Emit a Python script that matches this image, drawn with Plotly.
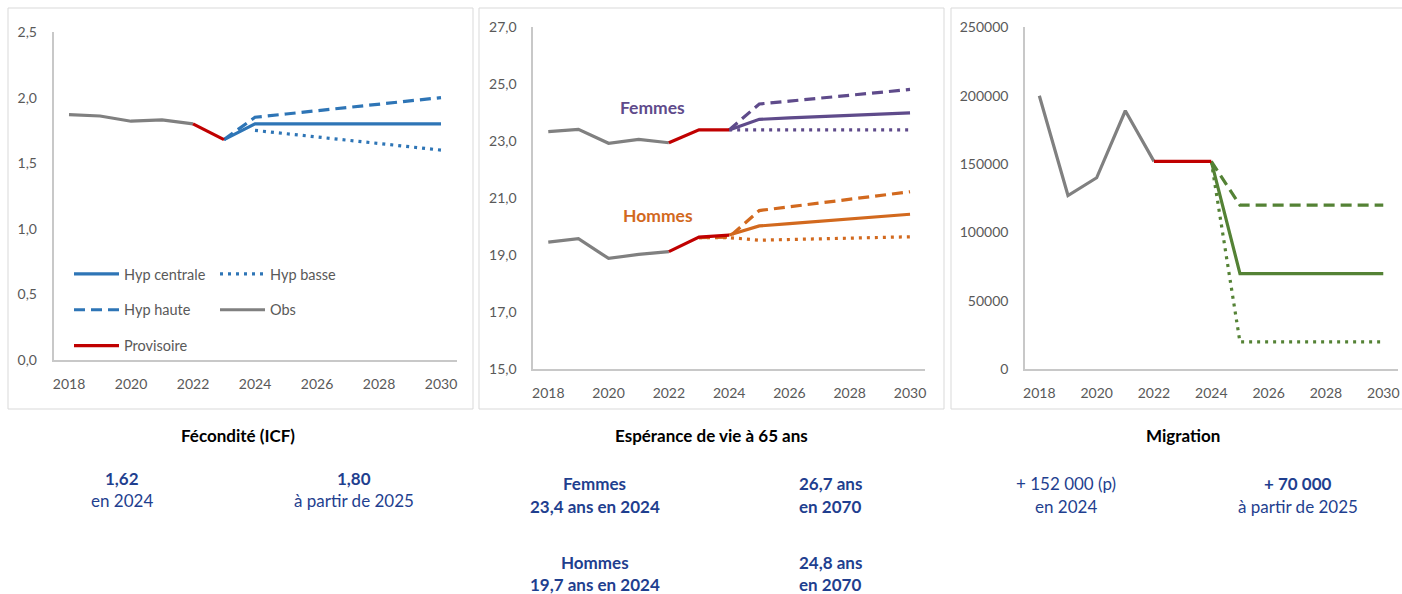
import plotly.graph_objects as go

W, H = 1402, 594
FONT = "Lato"

# ---------------- Data ----------------
years = [2018, 2019, 2020, 2021, 2022, 2023, 2024, 2025, 2026, 2027, 2028, 2029, 2030]

# Fécondité (ICF)
fec_obs_x = [2018, 2019, 2020, 2021, 2022]
fec_obs = [1.87, 1.86, 1.82, 1.83, 1.80]
fec_prov_x = [2022, 2023]
fec_prov = [1.80, 1.68]
fec_cent_x = [2023, 2024, 2025, 2026, 2027, 2028, 2029, 2030]
fec_cent = [1.68, 1.80, 1.80, 1.80, 1.80, 1.80, 1.80, 1.80]
fec_haute_x = [2023, 2024, 2025, 2026, 2027, 2028, 2029, 2030]
fec_haute = [1.68, 1.85, 1.875, 1.90, 1.925, 1.95, 1.975, 2.00]
fec_basse_x = [2024, 2025, 2026, 2027, 2028, 2029, 2030]
fec_basse = [1.75, 1.725, 1.70, 1.675, 1.65, 1.625, 1.60]

# Espérance de vie à 65 ans
ev_obs_x = [2018, 2019, 2020, 2021, 2022]
ev_f_obs = [23.34, 23.42, 22.93, 23.07, 22.95]
ev_h_obs = [19.46, 19.58, 18.89, 19.03, 19.13]
ev_prov_x = [2022, 2023, 2024]
ev_f_prov = [22.95, 23.40, 23.40]
ev_h_prov = [19.13, 19.64, 19.71]
ev_f_proj_x = [2024, 2025, 2026, 2027, 2028, 2029, 2030]
ev_f_cent = [23.40, 23.77, 23.82, 23.86, 23.91, 23.95, 24.00]
ev_f_haute = [23.40, 24.31, 24.41, 24.51, 24.62, 24.72, 24.82]
ev_f_basse = [23.40, 23.40, 23.40, 23.40, 23.40, 23.40, 23.40]
ev_h_cent_x = [2024, 2025, 2026, 2027, 2028, 2029, 2030]
ev_h_cent = [19.71, 20.03, 20.11, 20.19, 20.28, 20.36, 20.44]
ev_h_alt_x = [2023, 2024, 2025, 2026, 2027, 2028, 2029, 2030]
ev_h_haute = [19.62, 19.64, 20.57, 20.70, 20.83, 20.97, 21.10, 21.23]
ev_h_basse = [19.62, 19.62, 19.53, 19.55, 19.57, 19.60, 19.62, 19.65]

# Migration
mig_obs_x = [2018, 2019, 2020, 2021, 2022]
mig_obs = [200000, 127000, 140000, 189000, 152000]
mig_prov_x = [2022, 2023, 2024]
mig_prov = [152000, 152000, 152000]
mig_proj_x = [2024, 2025, 2026, 2027, 2028, 2029, 2030]
mig_cent = [152000, 70000, 70000, 70000, 70000, 70000, 70000]
mig_haute = [152000, 120000, 120000, 120000, 120000, 120000, 120000]
mig_basse = [152000, 20000, 20000, 20000, 20000, 20000, 20000]

# ---------------- Styles ----------------
GRAY = "#808080"
RED = "#C00000"
BLUE = "#2E75B6"
PURPLE = "#5F4B8B"
ORANGE = "#D2691E"
GREEN = "#548235"
TXT_BLUE = "#1F3F8F"
LW = 3.2
DASH = "11px,6px"
DOT = "3px,5px"


def px(x):
    return x / W


def py(y):
    return 1 - y / H


fig = go.Figure()


def add(x, y, color, dash="solid", xa="x", ya="y", name=None, legend=None, rank=None):
    fig.add_trace(go.Scatter(
        x=x, y=y, mode="lines", name=name,
        line=dict(color=color, width=LW, dash=dash),
        xaxis=xa, yaxis=ya,
        showlegend=legend is not None,
        legend=legend if legend else "legend",
        legendgroup=name,
        legendrank=rank if rank else 1000,
        hoverinfo="skip",
    ))


# Panel 1
add(fec_obs_x, fec_obs, GRAY, name="Obs", legend="legend2", rank=2)
add(fec_basse_x, fec_basse, BLUE, DOT, name="Hyp basse", legend="legend2", rank=1)
add(fec_haute_x, fec_haute, BLUE, DASH, name="Hyp haute", legend="legend", rank=2)
add(fec_cent_x, fec_cent, BLUE, name="Hyp centrale", legend="legend", rank=1)
add(fec_prov_x, fec_prov, RED, name="Provisoire", legend="legend", rank=3)

# Panel 2
add(ev_obs_x, ev_f_obs, GRAY, xa="x2", ya="y2")
add(ev_obs_x, ev_h_obs, GRAY, xa="x2", ya="y2")
add(ev_f_proj_x, ev_f_basse, PURPLE, DOT, xa="x2", ya="y2")
add(ev_f_proj_x, ev_f_haute, PURPLE, DASH, xa="x2", ya="y2")
add(ev_f_proj_x, ev_f_cent, PURPLE, xa="x2", ya="y2")
add(ev_h_alt_x, ev_h_basse, ORANGE, DOT, xa="x2", ya="y2")
add(ev_h_alt_x, ev_h_haute, ORANGE, DASH, xa="x2", ya="y2")
add(ev_h_cent_x, ev_h_cent, ORANGE, xa="x2", ya="y2")
add(ev_prov_x, ev_f_prov, RED, xa="x2", ya="y2")
add(ev_prov_x, ev_h_prov, RED, xa="x2", ya="y2")

# Panel 3
add(mig_obs_x, mig_obs, GRAY, xa="x3", ya="y3")
add(mig_proj_x, mig_basse, GREEN, DOT, xa="x3", ya="y3")
add(mig_proj_x, mig_haute, GREEN, DASH, xa="x3", ya="y3")
add(mig_proj_x, mig_cent, GREEN, xa="x3", ya="y3")
add(mig_prov_x, mig_prov, RED, xa="x3", ya="y3")

AXC = "#C8C8C8"
TICKC = "#595959"


def xaxis(d0, d1, anchor):
    return dict(domain=[px(d0), px(d1)], range=[2017.5, 2030.5], anchor=anchor,
                tickvals=[2018, 2020, 2022, 2024, 2026, 2028, 2030], tickformat="d",
                showgrid=False, zeroline=False, showline=True, linecolor=AXC, linewidth=1.5,
                ticks="", ticklabelstandoff=10,
                tickfont=dict(family=FONT, size=14, color=TICKC), fixedrange=True)


def yaxis(top, bottom, rng, dtick, fmt, anchor):
    return dict(domain=[py(bottom), py(top)], range=rng, anchor=anchor, dtick=dtick,
                tick0=rng[0], tickformat=fmt, exponentformat="none",
                showgrid=False, zeroline=False, showline=True, linecolor=AXC, linewidth=1.5,
                ticks="", ticklabelstandoff=12,
                tickfont=dict(family=FONT, size=14, color=TICKC), fixedrange=True)


fig.update_layout(
    width=W, height=H, margin=dict(l=0, r=0, t=0, b=0, autoexpand=False),
    paper_bgcolor="white", plot_bgcolor="white",
    separators=", ",
    font=dict(family=FONT),
    xaxis=xaxis(53.5, 456.5, "y"),
    yaxis=yaxis(32, 360, [0, 2.5], 0.5, ".1f", "x"),
    xaxis2=xaxis(533.2, 925.1, "y2"),
    yaxis2=yaxis(27.3, 369.3, [15, 27], 2, ".1f", "x2"),
    xaxis3=xaxis(1025, 1397.6, "y3"),
    yaxis3=yaxis(27.3, 369.3, [0, 250000], 50000, "d", "x3"),
    legend=dict(x=px(69), y=py(258), xanchor="left", yanchor="top",
                bgcolor="rgba(0,0,0,0)", traceorder="grouped", tracegroupgap=14,
                font=dict(family=FONT, size=14.5, color=TICKC), itemwidth=45),
    legend2=dict(x=px(215), y=py(258), xanchor="left", yanchor="top",
                 bgcolor="rgba(0,0,0,0)", traceorder="grouped", tracegroupgap=14,
                 font=dict(family=FONT, size=14.5, color=TICKC), itemwidth=45),
)

# Panel borders
BOX = "#D9D9D9"
for x0, x1 in [(8, 473), (479, 944), (951, 1420)]:
    fig.add_shape(type="rect", xref="paper", yref="paper",
                  x0=px(x0), x1=px(x1), y0=py(409), y1=py(8),
                  line=dict(color=BOX, width=1), fillcolor="rgba(0,0,0,0)", layer="below")

# In-chart labels (placed in the life-expectancy panel)
fig.add_annotation(x=2021.47, y=24.17, xref="x2", yref="y2", text="<b>Femmes</b>",
                   showarrow=False, xanchor="center", yanchor="middle",
                   font=dict(family=FONT, size=17.5, color=PURPLE))
fig.add_annotation(x=2021.64, y=20.41, xref="x2", yref="y2", text="<b>Hommes</b>",
                   showarrow=False, xanchor="center", yanchor="middle",
                   font=dict(family=FONT, size=17.5, color=ORANGE))

# Text below
texts = [
    (237.5, 435, "<b>Fécondité (ICF)</b>", "#000000"),
    (711.7, 435, "<b>Espérance de vie à 65 ans</b>", "#000000"),
    (1182.5, 435, "<b>Migration</b>", "#000000"),
    (122.5, 478, "<b>1,62</b>", TXT_BLUE),
    (122.5, 500, "en 2024", TXT_BLUE),
    (353.5, 478, "<b>1,80</b>", TXT_BLUE),
    (353.5, 500, "à partir de 2025", TXT_BLUE),
    (594.5, 483, "<b>Femmes</b>", TXT_BLUE),
    (594.5, 506, "<b>23,4 ans en 2024</b>", TXT_BLUE),
    (830, 483, "<b>26,7 ans</b>", TXT_BLUE),
    (830, 506, "<b>en 2070</b>", TXT_BLUE),
    (594.5, 562, "<b>Hommes</b>", TXT_BLUE),
    (594.5, 584, "<b>19,7 ans en 2024</b>", TXT_BLUE),
    (830, 562, "<b>24,8 ans</b>", TXT_BLUE),
    (830, 584, "<b>en 2070</b>", TXT_BLUE),
    (1065.8, 483, "+ 152 000 (p)", TXT_BLUE),
    (1065.8, 506, "en 2024", TXT_BLUE),
    (1298, 483, "<b>+ 70 000</b>", TXT_BLUE),
    (1298, 506, "à partir de 2025", TXT_BLUE),
]
for x, y, t, c in texts:
    fig.add_annotation(x=px(x), y=py(y), xref="paper", yref="paper", text=t,
                       showarrow=False, xanchor="center", yanchor="middle",
                       font=dict(family=FONT, size=17, color=c))

post = (
    "var gd=document.getElementById('{plot_id}');"
    "document.documentElement.style.margin='0';document.body.style.margin='0';"
    "document.documentElement.style.overflow='hidden';document.body.style.overflow='hidden';"
    "gd.style.position='fixed';gd.style.top='0px';gd.style.left='0px';"
)
fig.write_html("out.html", post_script=post, config={"displayModeBar": False})
